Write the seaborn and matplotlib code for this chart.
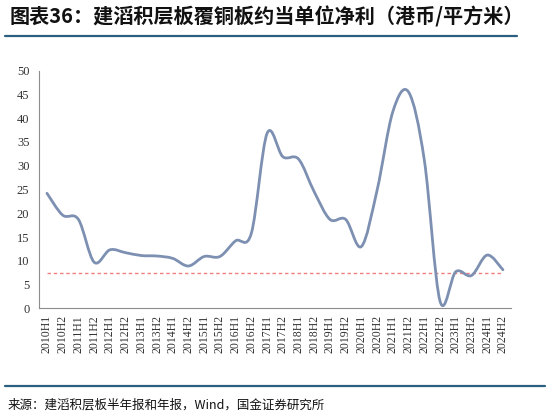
import numpy as np
import pandas as pd
import matplotlib
matplotlib.use("Agg")
import matplotlib.pyplot as plt
from matplotlib.path import Path
from matplotlib.patches import PathPatch
from matplotlib.lines import Line2D
import seaborn as sns

# --- 数据 ---
periods = ["2010H1", "2010H2", "2011H1", "2011H2", "2012H1", "2012H2",
           "2013H1", "2013H2", "2014H1", "2014H2", "2015H1", "2015H2",
           "2016H1", "2016H2", "2017H1", "2017H2", "2018H1", "2018H2",
           "2019H1", "2019H2", "2020H1", "2020H2", "2021H1", "2021H2",
           "2022H1", "2022H2", "2023H1", "2023H2", "2024H1", "2024H2"]
net_profit = [24.2, 19.6, 18.7, 9.7, 12.3, 11.7,
              11.1, 11.0, 10.5, 8.9, 10.9, 10.9,
              14.2, 15.8, 36.8, 31.9, 31.4, 24.5,
              18.7, 18.7, 13.0, 24.9, 41.4, 45.5,
              31.2, 1.5, 7.7, 6.9, 11.2, 8.1]
ref_level = 7.4  # 红色虚线
y_ticks = list(range(0, 55, 5))

title_text = "图表36：建滔积层板覆铜板约当单位净利（港币/平方米）"
source_text = "来源：建滔积层板半年报和年报，Wind，国金证券研究所"

LINE_COLOR = "#7D90B2"
AXIS_COLOR = "#8C8C8C"
RULE_COLOR = "#2B5F80"

sns.set_style("white")
plt.rcParams["font.family"] = ["Noto Sans CJK SC", "DejaVu Sans"]

df = pd.DataFrame({"period": periods, "value": net_profit})
df["pos"] = np.arange(len(df))


def smooth_path(x, y):
    """Excel 风格的平滑曲线（Catmull-Rom 转贝塞尔）"""
    pts = np.column_stack([x, y]).astype(float)
    ext = np.vstack([pts[0], pts, pts[-1]])
    verts = [pts[0]]
    codes = [Path.MOVETO]
    for i in range(1, len(ext) - 2):
        p0, p1, p2, p3 = ext[i - 1], ext[i], ext[i + 1], ext[i + 2]
        c1 = p1 + (p2 - p0) / 6.0
        c2 = p2 - (p3 - p1) / 6.0
        verts += [c1, c2, p2]
        codes += [Path.CURVE4] * 3
    return Path(verts, codes)


fig = plt.figure(figsize=(5.5, 4.17), dpi=100)
ax = fig.add_axes([0.0711, 0.2607, 0.8576, 0.5698])

# 参考虚线
sns.lineplot(x=df["pos"], y=[ref_level] * len(df), ax=ax,
             color="#F07F7F", linewidth=1.0, dashes=False)
ax.lines[-1].set_dashes((2.5, 2))

# 平滑主曲线
patch = PathPatch(smooth_path(df["pos"], df["value"]), facecolor="none",
                  edgecolor=LINE_COLOR, linewidth=2.0, capstyle="round",
                  joinstyle="round", zorder=3)
ax.add_patch(patch)

ax.set_xlim(-0.5, len(df) - 0.5)
ax.set_ylim(0, 50)
ax.set_xlabel("")
ax.set_ylabel("")

ax.set_yticks(y_ticks)
ax.set_yticklabels([str(t) for t in y_ticks], fontfamily="Liberation Serif",
                   fontsize=9, color="#333333")
ax.set_xticks(df["pos"])
ax.set_xticklabels(periods, rotation=90, fontfamily="Liberation Serif",
                   fontsize=8.5, color="#333333")
ax.set_xticks(np.arange(-0.5, len(df)), minor=True)
ax.tick_params(axis="x", which="major", length=0, pad=5)
ax.tick_params(axis="x", which="minor", length=3, direction="out",
               color=AXIS_COLOR, width=0.8)
ax.tick_params(axis="y", length=3, direction="out", color=AXIS_COLOR,
               width=0.8, pad=4)

for s in ["top", "right"]:
    ax.spines[s].set_visible(False)
for s in ["left", "bottom"]:
    ax.spines[s].set_color(AXIS_COLOR)
    ax.spines[s].set_linewidth(0.8)

# 标题、分隔线与来源
fig.text(10 / 550, 1 - 17 / 417, title_text, fontsize=14.5, fontweight="bold",
         fontstyle="italic", color="#111111", va="center", ha="left")
fig.add_artist(Line2D([5 / 550, 517 / 550], [1 - 36 / 417] * 2,
                      color=RULE_COLOR, linewidth=1.6))
fig.add_artist(Line2D([5 / 550, 545 / 550], [1 - 386 / 417] * 2,
                      color=RULE_COLOR, linewidth=1.6))
fig.text(8 / 550, 1 - 405 / 417, source_text, fontsize=9, color="#111111",
         va="center", ha="left")

fig.savefig("out.png", dpi=100)
